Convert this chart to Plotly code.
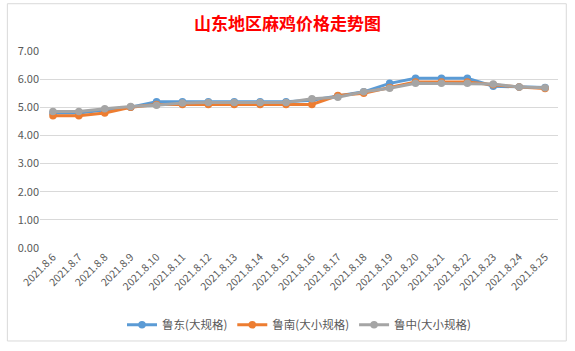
import plotly.graph_objects as go

dates = ["2021.8.6", "2021.8.7", "2021.8.8", "2021.8.9", "2021.8.10", "2021.8.11",
         "2021.8.12", "2021.8.13", "2021.8.14", "2021.8.15", "2021.8.16", "2021.8.17",
         "2021.8.18", "2021.8.19", "2021.8.20", "2021.8.21", "2021.8.22", "2021.8.23",
         "2021.8.24", "2021.8.25"]
ludong = [4.8, 4.8, 4.9, 5.0, 5.2, 5.2, 5.2, 5.2, 5.2, 5.2, 5.25, 5.4, 5.55, 5.85,
          6.03, 6.03, 6.03, 5.75, 5.72, 5.7]
lunan = [4.7, 4.7, 4.8, 5.0, 5.1, 5.1, 5.1, 5.1, 5.1, 5.1, 5.1, 5.42, 5.5, 5.7,
         5.9, 5.9, 5.9, 5.8, 5.72, 5.67]
luzhong = [4.85, 4.85, 4.95, 5.03, 5.07, 5.15, 5.17, 5.17, 5.17, 5.17, 5.3, 5.36, 5.55, 5.68,
           5.85, 5.85, 5.85, 5.83, 5.72, 5.69]

series = [("鲁东(大规格)", ludong, "#5B9BD5"),
          ("鲁南(大小规格)", lunan, "#ED7D31"),
          ("鲁中(大小规格)", luzhong, "#A5A5A5")]

fig = go.Figure()
for name, vals, color in series:
    fig.add_trace(go.Scatter(
        x=dates, y=vals, name=name, mode="lines+markers",
        line=dict(color=color, width=3),
        marker=dict(color=color, size=7.5, symbol="circle"),
    ))

fig.update_layout(
    width=575, height=351,
    margin=dict(l=40, r=17, t=51, b=100),
    paper_bgcolor="white", plot_bgcolor="white",
    font=dict(family="Noto Sans CJK SC, Microsoft YaHei, sans-serif", color="#595959"),
    title=dict(text="<b>山东地区麻鸡价格走势图</b>", x=0.5, xanchor="center",
               y=0.932, yanchor="middle",
               font=dict(size=17, color="#FF0000", family="Noto Sans CJK SC")),
    xaxis=dict(type="category", tickangle=-45, showgrid=False, showline=False,
               ticks="", tickfont=dict(size=10.5, color="#595959"),
               range=[-0.5, len(dates) - 0.5]),
    yaxis=dict(range=[0, 7], dtick=1, tickformat=".2f", showgrid=True,
               gridcolor="#D9D9D9", gridwidth=1, zeroline=False, showline=False,
               tickfont=dict(size=11, color="#595959"), ticks=""),
    legend=dict(orientation="h", x=0.5, xanchor="center", y=-0.39, yanchor="middle",
                font=dict(size=11.5, color="#595959"), itemwidth=30,
                tracegroupgap=0),
    showlegend=True,
)

fig.add_shape(type="rect", xref="paper", yref="paper",
              x0=-0.063, x1=1.016, y0=-0.472, y1=1.24,
              line=dict(color="#D9D9D9", width=1))

fig.write_html("out.html")
